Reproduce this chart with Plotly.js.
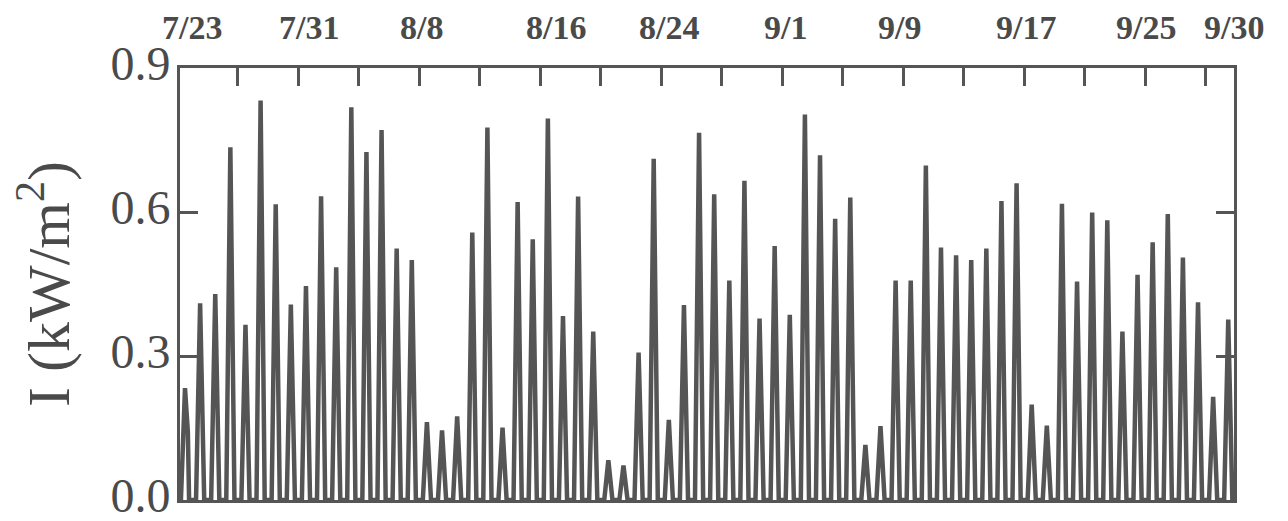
<!DOCTYPE html>
<html>
<head>
<meta charset="utf-8">
<script src="https://cdn.plot.ly/plotly-3.0.1.min.js"></script>
<style>
html,body{margin:0;padding:0;background:#ffffff;}
#chart{width:1288px;height:521px;}
</style>
</head>
<body>
<div id="chart"></div>
<script>
// Daily peak irradiance (kW/m^2), one value per day starting 7/23
const peakValues = [
  0.233, 0.410, 0.429, 0.735, 0.365, 0.832, 0.616, 0.407, 0.446, 0.633,
  0.485, 0.818, 0.725, 0.771, 0.524, 0.500, 0.162, 0.145, 0.174, 0.557,
  0.776, 0.151, 0.621, 0.543, 0.795, 0.383, 0.632, 0.351, 0.083, 0.072,
  0.307, 0.711, 0.167, 0.406, 0.765, 0.637, 0.457, 0.665, 0.378, 0.529,
  0.386, 0.803, 0.718, 0.586, 0.630, 0.115, 0.154, 0.457, 0.457, 0.697,
  0.526, 0.510, 0.500, 0.524, 0.623, 0.660, 0.199, 0.155, 0.617, 0.455,
  0.599, 0.583, 0.351, 0.469, 0.537, 0.596, 0.505, 0.412, 0.215, 0.376
];
// Afternoon shoulder values (0 = none)
const shoulderValues = new Array(peakValues.length).fill(0);
shoulderValues[0] = 0.142;
shoulderValues[9] = 0.208;

const sunriseHour = 5.5;
const noonHour = 12;
const shoulderHour = 16.5;
const sunsetHour = 18.5;

const tickDays = [4, 8, 12, 16, 20, 24, 28, 32, 36, 40, 44, 48, 52, 56, 60, 64, 68];
const dateLabels = ['7/23', '7/31', '8/8', '8/16', '8/24', '9/1', '9/9', '9/17', '9/25', '9/30'];
const dateLabelDays = [0.96, 8.73, 16.17, 25.04, 32.51, 40.2, 47.77, 56.12, 64.06, 69.85];

const yTickVals = [0, 0.3, 0.6, 0.9];
const yTickText = ['0.0', '0.3', '0.6', '0.9'];

const xs = [], ys = [];
peakValues.forEach((p, d) => {
  xs.push(d + sunriseHour / 24); ys.push(0);
  xs.push(d + noonHour / 24); ys.push(p);
  if (shoulderValues[d] > 0) { xs.push(d + shoulderHour / 24); ys.push(shoulderValues[d]); }
  xs.push(d + sunsetHour / 24); ys.push(0);
});

const ink = '#555555';
const textInk = '#4a4a4a';

const trace = {
  x: xs, y: ys, type: 'scatter', mode: 'lines',
  line: {color: ink, width: 4.5},
  hoverinfo: 'skip'
};

const layout = {
  width: 1288, height: 521,
  margin: {l: 180, r: 54, t: 68, b: 21},
  paper_bgcolor: '#ffffff', plot_bgcolor: '#ffffff',
  showlegend: false,
  xaxis: {
    range: [0.169, 69.88], side: 'top',
    showline: true, linecolor: ink, linewidth: 3, mirror: true,
    ticks: 'inside', ticklen: 18, tickwidth: 3, tickcolor: ink,
    tickvals: tickDays, showticklabels: false,
    showgrid: false, zeroline: false, fixedrange: true
  },
  yaxis: {
    range: [0, 0.9],
    tickvals: yTickVals, ticktext: yTickText,
    ticks: 'inside', ticklen: 18, tickwidth: 3, tickcolor: ink,
    showline: true, linecolor: ink, linewidth: 3, mirror: 'ticks',
    showgrid: false, zeroline: false, fixedrange: true,
    tickfont: {family: 'Liberation Serif', size: 48, color: textInk},
    ticklabelstandoff: -3,
    ticklabelshift: -5,
    ticklabeloverflow: 'allow',
    title: {
      text: 'I (kW/m<sup>2</sup>)',
      font: {family: 'Liberation Serif', size: 60, color: textInk},
      standoff: 22
    }
  },
  annotations: dateLabels.map((t, i) => ({
    text: t, x: dateLabelDays[i], xref: 'x', y: 1, yref: 'paper',
    xanchor: 'center', yanchor: 'bottom', yshift: 20, showarrow: false,
    font: {family: 'Liberation Serif', size: 34, color: textInk, weight: 'bold'}
  }))
};

Plotly.newPlot('chart', [trace], layout, {displayModeBar: false, staticPlot: true});
</script>
</body>
</html>
